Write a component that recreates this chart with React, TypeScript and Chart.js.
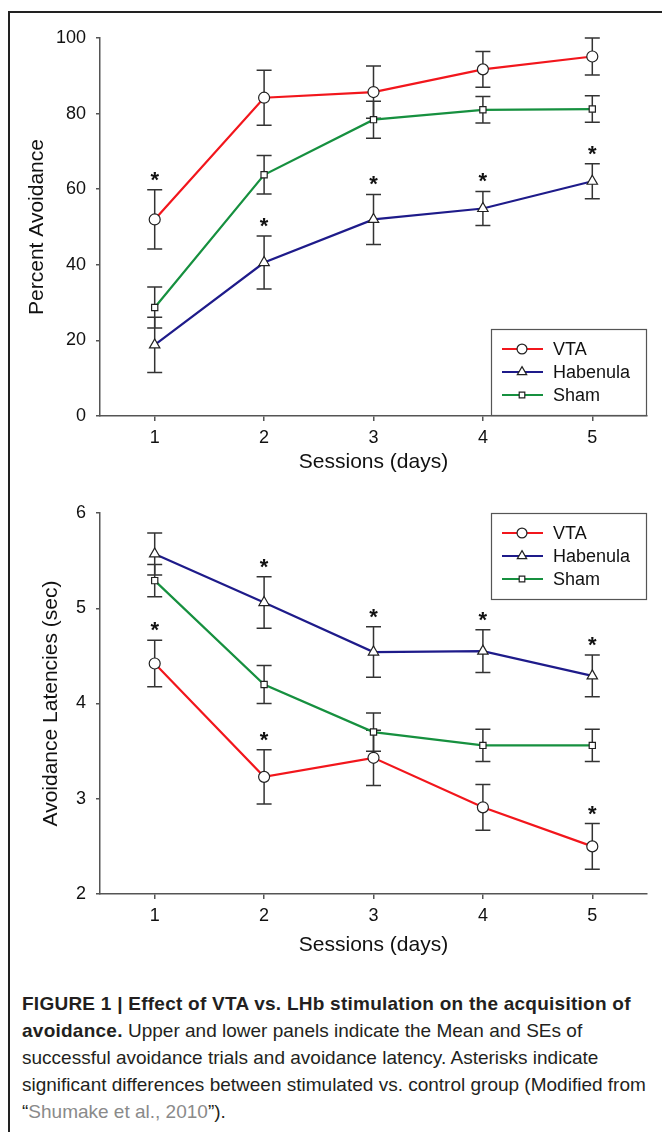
import React, { useEffect, useRef } from 'react';
import { Chart, registerables } from 'chart.js';

Chart.register(...registerables);

// ---------- data ----------
const sessions = [1, 2, 3, 4, 5];
const sessionTicks = [1, 2, 3, 4, 5];

const seriesLabels = ['VTA', 'Habenula', 'Sham'];
const seriesColors = ['#f2161c', '#1e1b8a', '#16903f'];
const seriesMarkers = ['circle', 'triangle', 'rect'];

// Upper panel: percent avoidance (mean, SE)
const avoidVTA = [52.0, 84.2, 85.7, 91.7, 95.1];
const avoidVTAErr = [7.85, 7.3, 6.9, 4.7, 4.9];
const avoidHab = [18.8, 40.6, 52.0, 54.9, 62.1];
const avoidHabErr = [7.3, 7.0, 6.6, 4.5, 4.6];
const avoidSham = [28.7, 63.8, 78.4, 81.0, 81.2];
const avoidShamErr = [5.4, 5.1, 4.9, 3.5, 3.5];
const avoidVTAStars = [1, 0, 0, 0, 0];
const avoidHabStars = [0, 1, 1, 1, 1];
const avoidShamStars = [0, 0, 0, 0, 0];
const avoidTicks = [0, 20, 40, 60, 80, 100];

// Lower panel: avoidance latencies (sec)
const latVTA = [4.42, 3.23, 3.43, 2.91, 2.5];
const latVTAErr = [0.245, 0.285, 0.29, 0.24, 0.24];
const latHab = [5.57, 5.06, 4.54, 4.55, 4.29];
const latHabErr = [0.22, 0.27, 0.265, 0.225, 0.22];
const latSham = [5.29, 4.2, 3.7, 3.56, 3.56];
const latShamErr = [0.17, 0.2, 0.2, 0.17, 0.17];
const latVTAStars = [1, 1, 0, 0, 1];
const latHabStars = [0, 1, 1, 1, 1];
const latShamStars = [0, 0, 0, 0, 0];
const latTicks = [2, 3, 4, 5, 6];

const FONT = "'Liberation Sans', Arial, sans-serif";

function drawMarker(ctx: CanvasRenderingContext2D, style: string, x: number, y: number, r: number) {
  ctx.beginPath();
  if (style === 'circle') {
    ctx.arc(x, y, r, 0, Math.PI * 2);
  } else if (style === 'triangle') {
    ctx.moveTo(x, y - r);
    ctx.lineTo(x + r * Math.sin(Math.PI / 3), y + r * 0.5);
    ctx.lineTo(x - r * Math.sin(Math.PI / 3), y + r * 0.5);
    ctx.closePath();
  } else {
    const s = r / Math.SQRT2;
    ctx.rect(x - s, y - s, 2 * s, 2 * s);
  }
  ctx.fillStyle = '#ffffff';
  ctx.fill();
  ctx.strokeStyle = '#222';
  ctx.lineWidth = 1.2;
  ctx.stroke();
}

const markerRadius: Record<string, number> = { circle: 5.5, triangle: 6, rect: 4.4 };

const figurePlugin = {
  id: 'figureExtras',
  beforeDatasetsDraw(chart: any) {
    const { ctx, scales } = chart;
    const x = scales.x;
    const y = scales.y;
    ctx.save();
    ctx.strokeStyle = '#333';
    ctx.lineWidth = 1.5;
    chart.data.datasets.forEach((ds: any) => {
      ds.data.forEach((pt: any, i: number) => {
        const e = ds.errors[i];
        const px = x.getPixelForValue(pt.x);
        const top = y.getPixelForValue(pt.y + e);
        const bot = y.getPixelForValue(pt.y - e);
        ctx.beginPath();
        ctx.moveTo(px, top);
        ctx.lineTo(px, bot);
        ctx.moveTo(px - 7.5, top);
        ctx.lineTo(px + 7.5, top);
        ctx.moveTo(px - 7.5, bot);
        ctx.lineTo(px + 7.5, bot);
        ctx.stroke();
      });
    });
    ctx.restore();
  },
  afterDatasetsDraw(chart: any, _args: any, opts: any) {
    const { ctx, scales, chartArea } = chart;
    const x = scales.x;
    const y = scales.y;
    ctx.save();
    // asterisks
    ctx.fillStyle = '#111';
    ctx.font = `bold 22px ${FONT}`;
    ctx.textAlign = 'center';
    ctx.textBaseline = 'alphabetic';
    const m = ctx.measureText('*');
    const asc = m.actualBoundingBoxAscent;
    const desc = m.actualBoundingBoxDescent;
    chart.data.datasets.forEach((ds: any) => {
      ds.data.forEach((pt: any, i: number) => {
        if (!ds.stars[i]) return;
        const px = x.getPixelForValue(pt.x);
        const top = y.getPixelForValue(pt.y + ds.errors[i]);
        const cy = top - 13.5;
        ctx.fillText('*', px, cy + (asc - desc) / 2);
      });
    });

    // legend box
    const w = 156;
    const h = 87;
    const left = chartArea.right - w;
    const top = opts.corner === 'top' ? chartArea.top : chartArea.bottom - h;
    ctx.strokeStyle = '#555';
    ctx.lineWidth = 1.2;
    ctx.strokeRect(left + 0.5, top + 0.5, w - 1, h - 1);
    ctx.font = `18px ${FONT}`;
    ctx.textAlign = 'left';
    ctx.textBaseline = 'middle';
    chart.data.datasets.forEach((ds: any, i: number) => {
      const ry = top + 20 + i * 23;
      ctx.strokeStyle = ds.borderColor;
      ctx.lineWidth = 2;
      ctx.beginPath();
      ctx.moveTo(left + 11, ry);
      ctx.lineTo(left + 52, ry);
      ctx.stroke();
      drawMarker(ctx, ds.pointStyle, left + 31, ry, markerRadius[ds.pointStyle] * 0.9);
      ctx.fillStyle = '#111';
      ctx.fillText(ds.label, left + 62, ry + 1);
    });
    ctx.restore();
  },
};

function makeDatasets(values: number[][], errors: number[][], stars: number[][]) {
  return seriesLabels.map((label, k) => ({
    label,
    data: sessions.map((s, i) => ({ x: s, y: values[k][i] })),
    errors: errors[k],
    stars: stars[k],
    borderColor: seriesColors[k],
    backgroundColor: '#ffffff',
    borderWidth: 2.2,
    pointStyle: seriesMarkers[k],
    pointRadius: markerRadius[seriesMarkers[k]],
    pointBackgroundColor: '#ffffff',
    pointBorderColor: '#222',
    pointBorderWidth: 1.2,
    tension: 0,
  }));
}

function makeConfig(opts: {
  datasets: any[];
  yMin: number;
  yMax: number;
  yTicks: number[];
  yTitle: string;
  yTitlePad: number;
  xTitlePad: number;
  padTop: number;
  xHeight: number;
  corner: string;
}): any {
  return {
    type: 'line',
    data: { datasets: opts.datasets },
    plugins: [figurePlugin],
    options: {
      animation: false,
      responsive: false,
      devicePixelRatio: 1,
      layout: { padding: { top: opts.padTop, right: 15, left: 0, bottom: 0 } },
      plugins: {
        legend: { display: false },
        tooltip: { enabled: false },
        figureExtras: { corner: opts.corner },
      },
      scales: {
        x: {
          type: 'linear',
          min: 0.5,
          max: 5.5,
          afterBuildTicks: (scale: any) => {
            scale.ticks = sessionTicks.map((v) => ({ value: v }));
          },
          afterFit: (scale: any) => {
            scale.height = opts.xHeight;
          },
          ticks: {
            font: { family: FONT, size: 18 },
            color: '#111',
            padding: 6,
            maxRotation: 0,
            callback: (v: any) => String(v),
          },
          grid: { drawOnChartArea: false, tickLength: 5, color: '#555', lineWidth: 1.5 },
          border: { color: '#555', width: 1.5 },
          title: {
            display: true,
            text: 'Sessions (days)',
            font: { family: FONT, size: 21 },
            color: '#111',
            padding: { top: 0, bottom: opts.xTitlePad },
          },
        },
        y: {
          type: 'linear',
          min: opts.yMin,
          max: opts.yMax,
          afterBuildTicks: (scale: any) => {
            scale.ticks = opts.yTicks.map((v) => ({ value: v }));
          },
          afterFit: (scale: any) => {
            scale.width = 100;
          },
          ticks: {
            font: { family: FONT, size: 18 },
            color: '#111',
            padding: 10,
            callback: (v: any) => String(v),
          },
          grid: { drawOnChartArea: false, tickLength: 4, color: '#555', lineWidth: 1.5 },
          border: { color: '#555', width: 1.5 },
          title: {
            display: true,
            text: opts.yTitle,
            font: { family: FONT, size: 21 },
            color: '#111',
            padding: { top: opts.yTitlePad, bottom: 0 },
          },
        },
      },
    },
  };
}

function ChartCanvas({ config, top }: { config: () => any; top: number }) {
  const ref = useRef<HTMLCanvasElement | null>(null);
  useEffect(() => {
    if (!ref.current) return;
    const chart = new Chart(ref.current, config());
    return () => chart.destroy();
  }, []);
  return (
    <canvas
      ref={ref}
      width={662}
      height={480}
      style={{ position: 'absolute', left: 0, top, width: 662, height: 480 }}
    />
  );
}

export default function App() {
  const topConfig = () =>
    makeConfig({
      datasets: makeDatasets(
        [avoidVTA, avoidHab, avoidSham],
        [avoidVTAErr, avoidHabErr, avoidShamErr],
        [avoidVTAStars, avoidHabStars, avoidShamStars]
      ),
      yMin: 0,
      yMax: 100,
      yTicks: avoidTicks,
      yTitle: 'Percent Avoidance',
      yTitlePad: 25,
      xTitlePad: 5,
      padTop: 38,
      xHeight: 64,
      corner: 'bottom',
    });
  const bottomConfig = () =>
    makeConfig({
      datasets: makeDatasets(
        [latVTA, latHab, latSham],
        [latVTAErr, latHabErr, latShamErr],
        [latVTAStars, latHabStars, latShamStars]
      ),
      yMin: 2,
      yMax: 6,
      yTicks: latTicks,
      yTitle: 'Avoidance Latencies (sec)',
      yTitlePad: 39,
      xTitlePad: 2.5,
      padTop: 33,
      xHeight: 66,
      corner: 'top',
    });

  const capFont = "'Liberation Sans', Arial, sans-serif";

  return (
    <div
      style={{
        position: 'absolute',
        left: 0,
        top: 0,
        width: 662,
        height: 1132,
        overflow: 'hidden',
        background: '#fff',
      }}
    >
      <div style={{ position: 'absolute', left: 8, top: 11, width: 654, height: 1.5, background: '#222' }} />
      <div style={{ position: 'absolute', left: 8, top: 11, width: 1.5, height: 1121, background: '#222' }} />
      <ChartCanvas config={topConfig} top={0} />
      <ChartCanvas config={bottomConfig} top={480} />
      <div
        style={{
          position: 'absolute',
          left: 22,
          top: 990,
          width: 640,
          fontFamily: capFont,
          fontSize: 19,
          lineHeight: '27px',
          color: '#231f20',
          whiteSpace: 'nowrap',
        }}
      >
        <div style={{ letterSpacing: 0.25 }}>
          <b>FIGURE 1 | Effect of VTA vs. LHb stimulation on the acquisition of</b>
        </div>
        <div>
          <b style={{ letterSpacing: 0.25 }}>avoidance.</b> Upper and lower panels indicate the Mean and SEs of
        </div>
        <div>successful avoidance trials and avoidance latency. Asterisks indicate</div>
        <div>significant differences between stimulated vs. control group (Modified from</div>
        <div>
          “<span style={{ color: '#8a8a8a' }}>Shumake et al., 2010</span>”).
        </div>
      </div>
    </div>
  );
}
